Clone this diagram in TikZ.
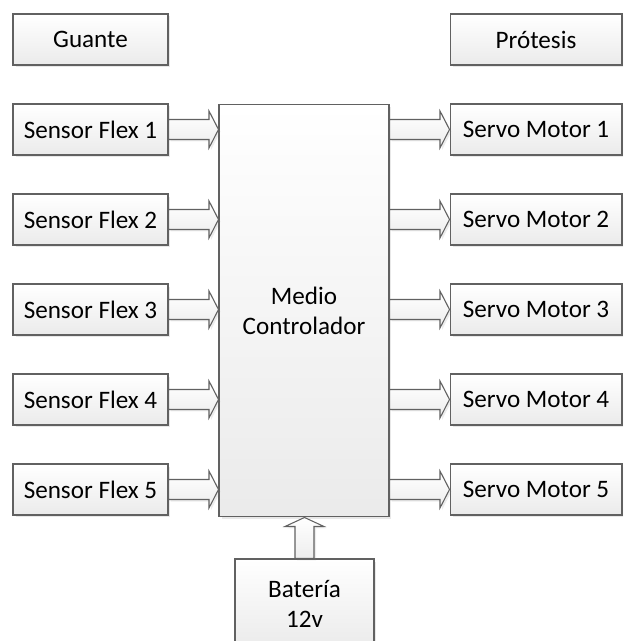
\documentclass[tikz,border=0pt]{standalone}
\usepackage{fontspec}
\setmainfont{Carlito}
\usepackage{tikz}
\usetikzlibrary{calc, shadows}

% block arrow between two points, horizontal or vertical
\newcommand{\harrow}[2]{%
  \path[fatarrow] let \p1=(#1), \p2=(#2) in
    (\x1,\y1+0.2cm) -- (\x2-0.19cm,\y1+0.2cm) -- (\x2-0.19cm,\y1+0.37cm) -- (\x2,\y1)
    -- (\x2-0.19cm,\y1-0.37cm) -- (\x2-0.19cm,\y1-0.2cm) -- (\x1,\y1-0.2cm) -- cycle;}
\newcommand{\varrow}[2]{%
  \path[fatarrow] let \p1=(#1), \p2=(#2) in
    (\x1-0.19cm,\y1) -- (\x1-0.19cm,\y2-0.18cm) -- (\x1-0.39cm,\y2-0.18cm) -- (\x1,\y2)
    -- (\x1+0.39cm,\y2-0.18cm) -- (\x1+0.19cm,\y2-0.18cm) -- (\x1+0.19cm,\y1) -- cycle;}

\begin{document}
\begin{tikzpicture}[x=0.02cm, y=-0.02cm,
  block/.style={rectangle, draw=black!62, line width=0.6pt, top color=white, bottom color=black!8,
                drop shadow={shadow xshift=0.05cm, shadow yshift=-0.05cm, opacity=0.18},
                inner sep=2pt, align=center, font=\fontsize{14.3}{17}\selectfont},
  side/.style={block, minimum width=3.1cm, minimum height=1.02cm},
  servo/.style={block, minimum width=3.44cm, minimum height=1.02cm},
  fatarrow/.style={draw=black!62, line width=0.6pt, top color=white, bottom color=black!7,
                   drop shadow={shadow xshift=0.04cm, shadow yshift=-0.04cm, opacity=0.15}}
]
  \useasboundingbox (0,0) rectangle (623,641);
  \clip (0,0) rectangle (623,641);

  \node[side] (guante) at (90.5,39.5) {Guante};
  \node[servo] (protesis) at (536,39.5) {Prótesis};

  \node[block, minimum width=3.4cm, minimum height=8.26cm] (ctrl) at (304,310.5) {Medio\\Controlador};

  \node[side] (s1) at (90.5,129.5) {Sensor Flex 1};
  \node[side] (s2) at (90.5,219.5) {Sensor Flex 2};
  \node[side] (s3) at (90.5,309.5) {Sensor Flex 3};
  \node[side] (s4) at (90.5,399.5) {Sensor Flex 4};
  \node[side] (s5) at (90.5,489.5) {Sensor Flex 5};

  \node[servo] (m1) at (536,129.5) {Servo Motor 1};
  \node[servo] (m2) at (536,219.5) {Servo Motor 2};
  \node[servo] (m3) at (536,309.5) {Servo Motor 3};
  \node[servo] (m4) at (536,399.5) {Servo Motor 4};
  \node[servo] (m5) at (536,489.5) {Servo Motor 5};

  \node[block, minimum width=2.78cm, minimum height=1.8cm] (bat) at (304.5,604) {Batería\\12v};

  \harrow{s1.east}{ctrl.west |- s1.east}
  \harrow{s2.east}{ctrl.west |- s2.east}
  \harrow{s3.east}{ctrl.west |- s3.east}
  \harrow{s4.east}{ctrl.west |- s4.east}
  \harrow{s5.east}{ctrl.west |- s5.east}

  \harrow{ctrl.east |- m1.west}{m1.west}
  \harrow{ctrl.east |- m2.west}{m2.west}
  \harrow{ctrl.east |- m3.west}{m3.west}
  \harrow{ctrl.east |- m4.west}{m4.west}
  \harrow{ctrl.east |- m5.west}{m5.west}

  \varrow{bat.north}{ctrl.south}
\end{tikzpicture}
\end{document}
